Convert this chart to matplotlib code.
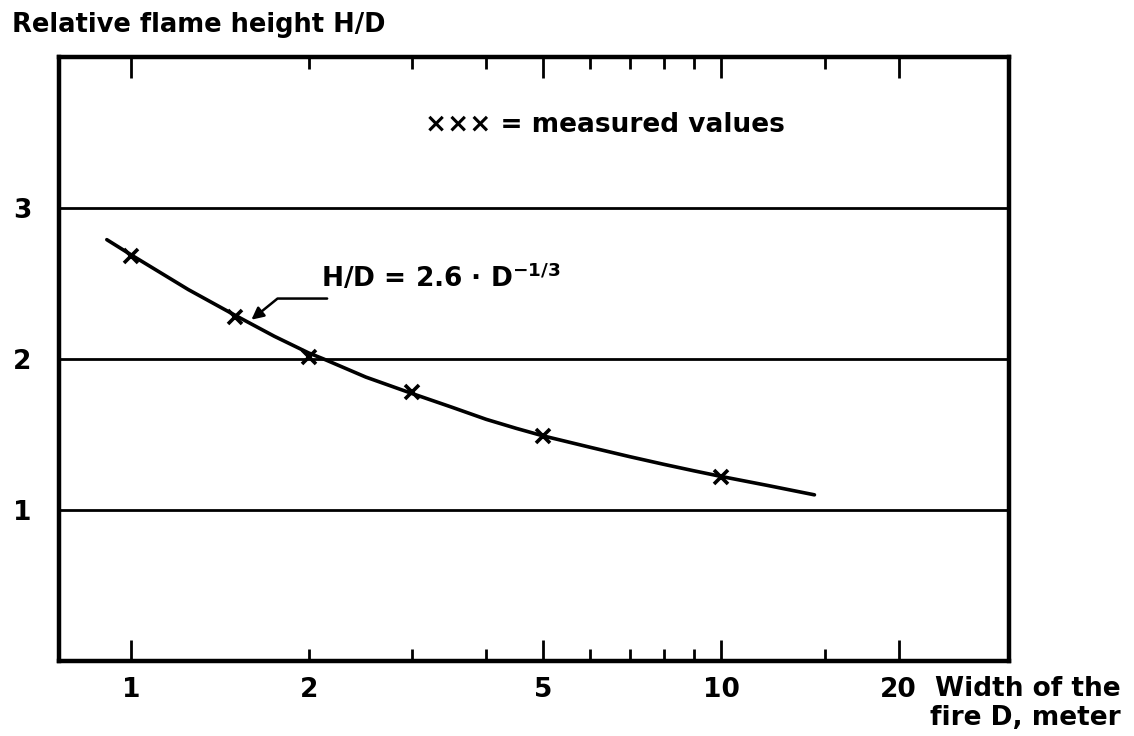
import matplotlib
matplotlib.use('Agg')
import matplotlib.pyplot as plt
from matplotlib.ticker import FixedLocator, NullFormatter

# Data
measured_D = [1.0, 1.5, 2.0, 3.0, 5.0, 10.0]          # width of the fire, m
measured_HD = [2.68, 2.28, 2.01, 1.78, 1.49, 1.22]     # relative flame height

# fitted curve, points
curve_D = [0.91, 1.0, 1.25, 1.5, 1.75, 2.0, 2.12, 2.5, 3.0, 3.5, 4.0, 4.5,
           5.0, 6.0, 7.0, 8.0, 9.0, 10.0, 12.0, 14.4]
curve_HD = [2.79, 2.69, 2.46, 2.29, 2.15, 2.04, 2.00, 1.88, 1.77, 1.68, 1.60, 1.54,
            1.49, 1.415, 1.353, 1.302, 1.259, 1.222, 1.162, 1.10]

x_major = [1, 5, 10, 20]
x_minor = [2, 3, 4, 6, 7, 8, 9, 15]
x_labels = [1, 2, 5, 10, 20]
y_lines = [1, 2, 3]

plt.rcParams['font.family'] = ['DejaVu Sans']
plt.rcParams['font.weight'] = 'bold'

fig = plt.figure(figsize=(11.34, 7.36), dpi=100)
ax = fig.add_axes([0.052, 0.102, 0.838, 0.8206])

ax.set_xscale('log')
ax.set_xlim(0.755, 30.8)
ax.set_ylim(0, 4)

# horizontal lines at 1, 2, 3
for y in y_lines:
    ax.axhline(y, color='black', lw=2.0, zorder=1)

# curve and measured points
ax.plot(curve_D, curve_HD, color='black', lw=2.6, solid_capstyle='round',
        solid_joinstyle='round', zorder=3)
ax.plot(measured_D, measured_HD, linestyle='none', marker='x', ms=10, mew=2.6,
        color='black', zorder=4)

# ticks
ax.xaxis.set_major_locator(FixedLocator(x_major))
ax.xaxis.set_minor_locator(FixedLocator(x_minor))
ax.xaxis.set_major_formatter(NullFormatter())
ax.xaxis.set_minor_formatter(NullFormatter())
ax.tick_params(axis='x', which='major', direction='in', length=15, width=2,
               top=True, bottom=True)
ax.tick_params(axis='x', which='minor', direction='in', length=8.5, width=2,
               top=True, bottom=True)
ax.set_yticks(y_lines)
ax.set_yticklabels([str(v) for v in y_lines], fontsize=19, fontweight='bold')
ax.tick_params(axis='y', which='major', length=0, pad=20)

for v in x_labels:
    ax.text(v, -0.048, str(v), ha='center', va='center', fontsize=19,
            fontweight='bold', transform=ax.get_xaxis_transform())

for s in ax.spines.values():
    s.set_linewidth(3.2)

# texts
fig.text(0.011, 0.966, 'Relative flame height H/D', fontsize=18.5, fontweight='bold',
         ha='left', va='center')
ax.text(0.575, 0.887, '\u00d7\u00d7\u00d7 = measured values', transform=ax.transAxes,
        fontsize=19, fontweight='bold', ha='center', va='center')
fig.text(0.988, 0.044, 'Width of the\nfire D, meter', fontsize=19, fontweight='bold',
         ha='right', va='center', linespacing=1.15)

# equation with bent leader arrow
ax.text(2.10, 2.44, r'H/D = 2.6 $\cdot$ D$^{\mathbf{-1/3}}$', fontsize=19,
        fontweight='bold', ha='left', va='bottom')
ax.annotate('', xy=(1.60, 2.26), xytext=(2.15, 2.40),
            arrowprops=dict(arrowstyle='-|>', color='black', lw=1.8,
                            mutation_scale=18, shrinkA=0, shrinkB=0,
                            connectionstyle='angle,angleA=0,angleB=39,rad=0'))

plt.savefig('out.png', dpi=100)
